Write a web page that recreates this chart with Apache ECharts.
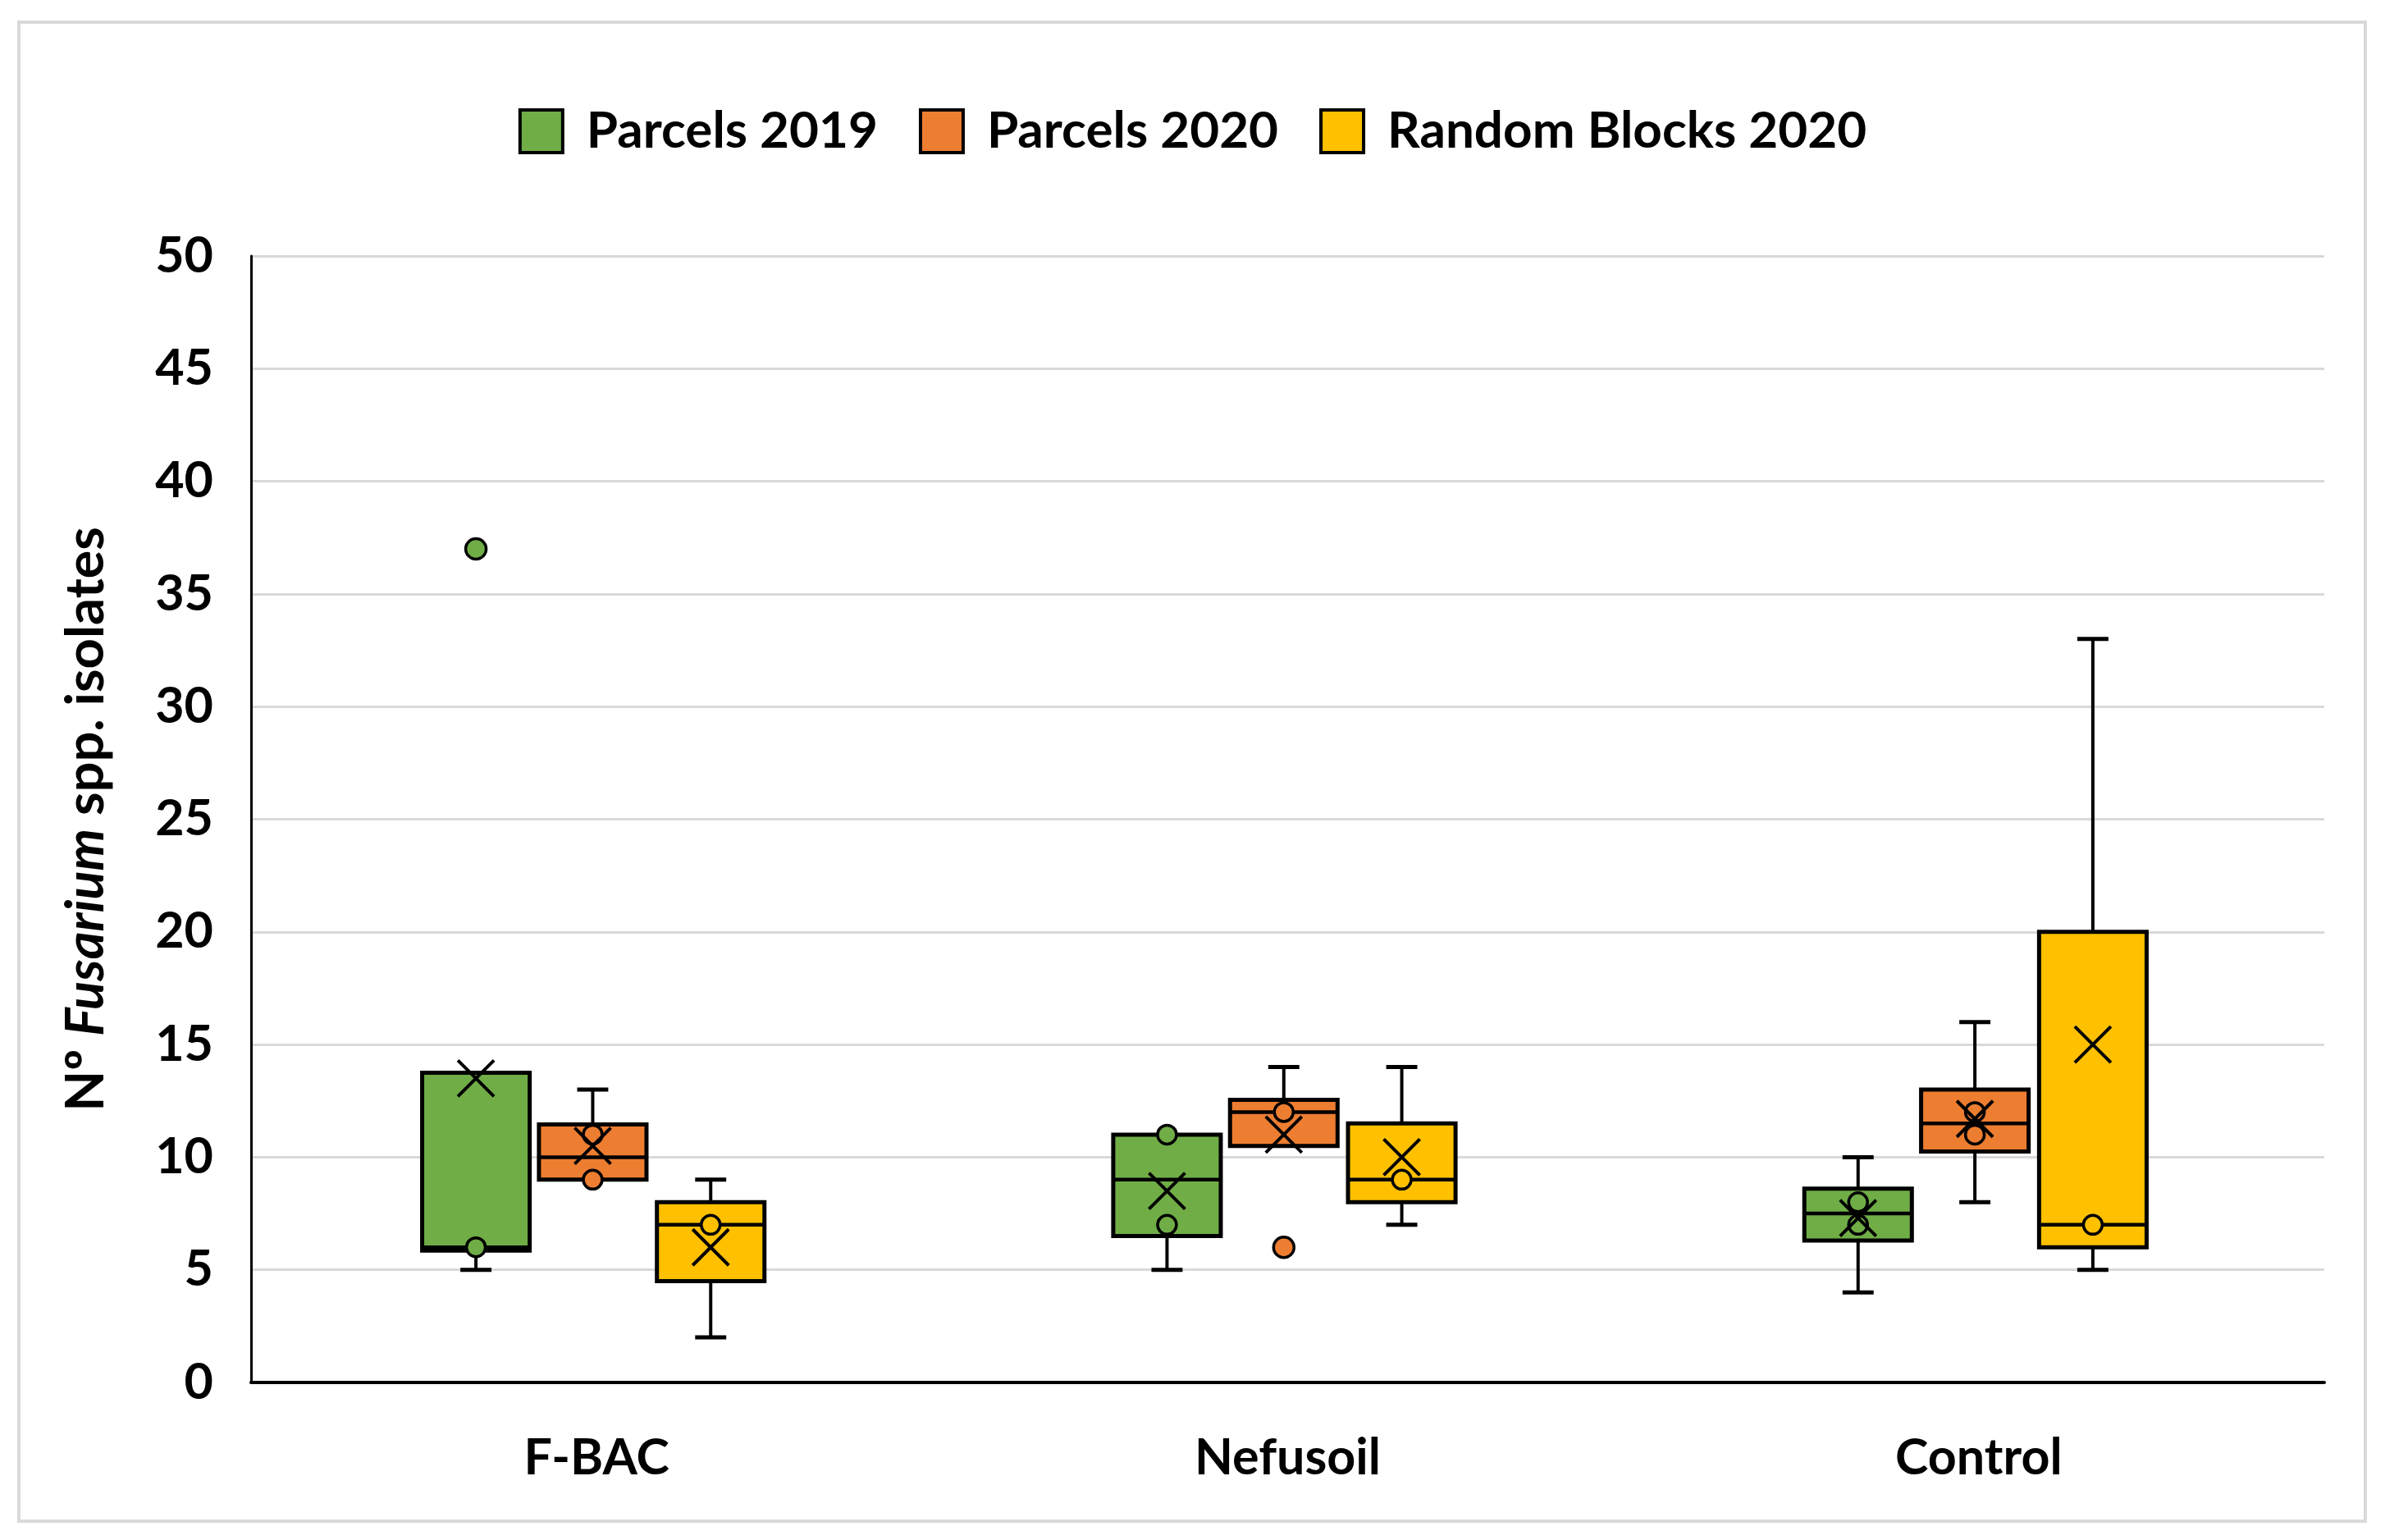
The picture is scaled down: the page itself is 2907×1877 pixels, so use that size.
<!DOCTYPE html>
<html><head><meta charset="utf-8">
<script src="https://cdn.jsdelivr.net/npm/echarts@6/dist/echarts.min.js"></script>
<style>html,body{margin:0;padding:0;background:#fff}#c{width:2907px;height:1877px}</style>
</head><body><div id="c"></div>
<script>
const categories = ['F-BAC', 'Nefusoil', 'Control'];
const seriesNames = ['Parcels 2019', 'Parcels 2020', 'Random Blocks 2020'];
const seriesColors = ['#70AD47', '#ED7D31', '#FFC000'];

// box statistics per category: [min, Q1, median, Q3, max]
const parcels2019Box = [[5, 5.85, 6, 13.75, 13.75], [5, 6.5, 9, 11, 11], [4, 6.3, 7.5, 8.6, 10]];
const parcels2020Box = [[9, 9, 10, 11.45, 13], [10.5, 10.5, 12, 12.55, 14], [8, 10.25, 11.5, 13, 16]];
const random2020Box = [[2, 4.5, 7, 8, 9], [7, 8, 9, 11.5, 14], [5, 6, 7, 20, 33]];

// means (X markers)
const parcels2019Mean = [13.5, 8.5, 7.3];
const parcels2020Mean = [10.5, 11, 11.7];
const random2020Mean = [6, 10, 15];

// inner points
const parcels2019Inner = [[6], [11, 7], [8, 7]];
const parcels2020Inner = [[11, 9], [12], [12, 11]];
const random2020Inner = [[7], [9], [7]];

// outliers
const parcels2019Outliers = [[37], [], []];
const parcels2020Outliers = [[], [6], []];
const random2020Outliers = [[], [], []];

const yMin = 0, yMax = 50, yInterval = 5;

const boxSets = [parcels2019Box, parcels2020Box, random2020Box];
const meanSets = [parcels2019Mean, parcels2020Mean, random2020Mean];
const innerSets = [parcels2019Inner, parcels2020Inner, random2020Inner];
const outlierSets = [parcels2019Outliers, parcels2020Outliers, random2020Outliers];

// layout (fractions of category band width)
const OFFSETS = [-0.1746, -0.0056, 0.1651];
const BOX_FRAC = 0.1556;
const CAP_FRAC = 0.045;

function boxRender(si) {
  return function (params, api) {
    const cat = api.value(0);
    const mn = api.value(1), q1 = api.value(2), md = api.value(3), q3 = api.value(4), mx = api.value(5);
    const bw = api.size([1, 0])[0];
    const cx = api.coord([cat, 0])[0] + bw * OFFSETS[si];
    const hw = bw * BOX_FRAC / 2;
    const cw = bw * CAP_FRAC / 2;
    const Y = v => api.coord([cat, v])[1];
    const lineSt = { stroke: '#000', lineWidth: 4 };
    const ch = [];
    if (mx > q3) {
      ch.push({ type: 'line', shape: { x1: cx, y1: Y(q3), x2: cx, y2: Y(mx) }, style: lineSt });
      ch.push({ type: 'line', shape: { x1: cx - cw, y1: Y(mx), x2: cx + cw, y2: Y(mx) }, style: { stroke: '#000', lineWidth: 5 } });
    }
    if (mn < q1) {
      ch.push({ type: 'line', shape: { x1: cx, y1: Y(q1), x2: cx, y2: Y(mn) }, style: lineSt });
      ch.push({ type: 'line', shape: { x1: cx - cw, y1: Y(mn), x2: cx + cw, y2: Y(mn) }, style: { stroke: '#000', lineWidth: 5 } });
    }
    ch.push({ type: 'rect', shape: { x: cx - hw, y: Y(q3), width: hw * 2, height: Y(q1) - Y(q3) },
      style: { fill: seriesColors[si], stroke: '#000', lineWidth: 5 } });
    ch.push({ type: 'line', shape: { x1: cx - hw, y1: Y(md), x2: cx + hw, y2: Y(md) }, style: { stroke: '#000', lineWidth: 4.5 } });
    return { type: 'group', children: ch };
  };
}

function pointRender(si) {
  return function (params, api) {
    const cat = api.value(0), v = api.value(1), kind = api.value(2);
    const bw = api.size([1, 0])[0];
    const cx = api.coord([cat, 0])[0] + bw * OFFSETS[si];
    const cy = api.coord([cat, v])[1];
    if (kind === 2) {
      const s = 22;
      return { type: 'group', children: [
        { type: 'line', shape: { x1: cx - s, y1: cy - s, x2: cx + s, y2: cy + s }, style: { stroke: '#000', lineWidth: 4 } },
        { type: 'line', shape: { x1: cx - s, y1: cy + s, x2: cx + s, y2: cy - s }, style: { stroke: '#000', lineWidth: 4 } }
      ] };
    }
    return { type: 'circle', shape: { cx: cx, cy: cy, r: kind === 1 ? 12.5 : 11.5 },
      style: { fill: seriesColors[si], stroke: '#000', lineWidth: 3.5 } };
  };
}

const series = [];
for (let si = 0; si < 3; si++) {
  series.push({
    name: seriesNames[si], type: 'custom', z: 2,
    itemStyle: { color: seriesColors[si] },
    renderItem: boxRender(si),
    encode: { x: 0, y: [1, 2, 3, 4, 5] },
    data: boxSets[si].map((b, ci) => [ci, ...b])
  });
}
for (let si = 0; si < 3; si++) {
  const pts = [];
  innerSets[si].forEach((arr, ci) => arr.forEach(v => pts.push([ci, v, 0])));
  outlierSets[si].forEach((arr, ci) => arr.forEach(v => pts.push([ci, v, 1])));
  meanSets[si].forEach((v, ci) => pts.push([ci, v, 2]));
  series.push({
    name: seriesNames[si], type: 'custom', z: 3,
    itemStyle: { color: seriesColors[si] },
    renderItem: pointRender(si),
    encode: { x: 0, y: 1 },
    data: pts
  });
}

const chart = echarts.init(document.getElementById('c'));
chart.setOption({
  animation: false,
  backgroundColor: '#fff',
  textStyle: { fontFamily: 'Lato' },
  graphic: [{
    type: 'rect', silent: true, z: -1,
    shape: { x: 23, y: 27, width: 2860, height: 1827 },
    style: { fill: 'none', stroke: '#D9D9D9', lineWidth: 4 }
  }],
  legend: {
    top: 124, left: 'center',
    itemWidth: 52, itemHeight: 52, itemGap: 50,
    textStyle: { fontFamily: 'Lato', fontWeight: 'bold', fontSize: 62, color: '#000', padding: [0, 0, 0, 24] },
    data: seriesNames.map((n, i) => ({ name: n, icon: 'rect',
      itemStyle: { color: seriesColors[i], borderColor: '#000', borderWidth: 4 } }))
  },
  grid: { left: 306, right: 74, top: 312, bottom: 192, containLabel: false },
  xAxis: {
    type: 'category', data: categories,
    axisLine: { show: true, lineStyle: { color: '#000', width: 4 } },
    axisTick: { show: false },
    axisLabel: { margin: 62, fontFamily: 'Lato', fontWeight: 'bold', fontSize: 61, color: '#000' },
    splitLine: { show: false }
  },
  yAxis: {
    type: 'value', min: yMin, max: yMax, interval: yInterval,
    axisLine: { show: true, lineStyle: { color: '#000', width: 3 } },
    axisTick: { show: false },
    axisLabel: { margin: 46, fontFamily: 'Lato', fontWeight: 'bold', fontSize: 61, color: '#000' },
    splitLine: { show: true, lineStyle: { color: '#D9D9D9', width: 3 } },
    name: '{a|Nº }{b|Fusarium}{a| spp. isolates}',
    nameLocation: 'middle', nameGap: 168,
    nameTextStyle: {
      rich: {
        a: { fontFamily: 'Lato', fontWeight: 'bold', fontSize: 65, color: '#000' },
        b: { fontFamily: 'Lato', fontWeight: 'bold', fontStyle: 'italic', fontSize: 65, color: '#000' }
      }
    }
  },
  series: series
});
</script></body></html>
